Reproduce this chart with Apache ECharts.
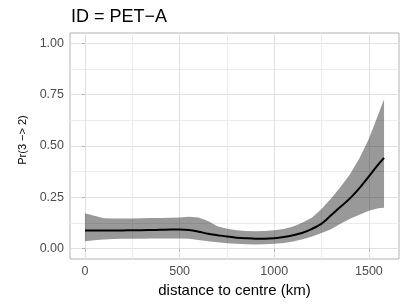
<!DOCTYPE html>
<html>
<head>
<meta charset="utf-8">
<script src="https://cdn.jsdelivr.net/npm/echarts@6/dist/echarts.min.js"></script>
<style>html,body{margin:0;padding:0;background:#fff}#c{width:407px;height:305px}</style>
</head>
<body>
<div id="c"></div>
<script>
var distance = [0, 50, 100, 150, 200, 250, 300, 350, 400, 450, 500, 550, 600, 650, 700, 750, 800, 850, 900, 950, 1000, 1050, 1100, 1150, 1200, 1250, 1300, 1350, 1400, 1450, 1500, 1550, 1580];
var fit = [0.089, 0.089, 0.089, 0.089, 0.089, 0.090, 0.090, 0.091, 0.092, 0.093, 0.094, 0.091, 0.083, 0.073, 0.066, 0.059, 0.054, 0.051, 0.049, 0.049, 0.051, 0.057, 0.066, 0.078, 0.097, 0.122, 0.163, 0.204, 0.245, 0.295, 0.352, 0.410, 0.442];
var upper = [0.173, 0.160, 0.148, 0.147, 0.147, 0.147, 0.148, 0.149, 0.150, 0.151, 0.152, 0.156, 0.152, 0.135, 0.110, 0.097, 0.090, 0.086, 0.085, 0.086, 0.090, 0.096, 0.108, 0.128, 0.152, 0.193, 0.245, 0.300, 0.362, 0.440, 0.535, 0.655, 0.728];
var lower = [0.037, 0.041, 0.045, 0.047, 0.048, 0.049, 0.049, 0.050, 0.050, 0.050, 0.050, 0.049, 0.043, 0.036, 0.031, 0.027, 0.024, 0.022, 0.021, 0.022, 0.024, 0.028, 0.035, 0.046, 0.060, 0.077, 0.095, 0.122, 0.146, 0.165, 0.185, 0.197, 0.199];
var xTicks = [0, 500, 1000, 1500];
var xMinor = [250, 750, 1250];
var yTicks = [0, 0.25, 0.5, 0.75, 1.0];
var yMinor = [0.125, 0.375, 0.625, 0.875];
var titleText = 'ID = PET\u2212A';
var xTitle = 'distance to centre (km)';
var yTitle = 'Pr(3 \u2212> 2)';

var FONT = 'Liberation Sans, Arial, sans-serif';
var chart = echarts.init(document.getElementById('c'), null, {renderer: 'canvas'});

function pairs(xs, ys) { return xs.map(function (x, i) { return [x, ys[i]]; }); }

chart.setOption({
  animation: false,
  backgroundColor: '#ffffff',
  title: {
    text: titleText, left: 66, top: 3,
    textStyle: {fontFamily: FONT, fontSize: 18, fontWeight: 'normal', color: '#000'}
  },
  grid: {left: 70, right: 8, top: 33, bottom: 46, show: true, borderColor: '#b3b3b3', borderWidth: 1, backgroundColor: '#fff'},
  xAxis: [{
    type: 'value', min: -79, max: 1659,
    name: xTitle, nameLocation: 'middle', nameGap: 21,
    nameTextStyle: {fontFamily: FONT, fontSize: 15, color: '#000'},
    axisLine: {show: false},
    axisTick: {show: true, customValues: xTicks, length: 3, lineStyle: {color: '#b3b3b3'}},
    axisLabel: {customValues: xTicks, margin: 6, fontFamily: FONT, fontSize: 12.5, color: '#4d4d4d',
      formatter: function (v) { return String(v); }},
    splitLine: {show: true, lineStyle: {color: '#e1e1e1', width: 1}}
  }, {
    type: 'value', min: -79, max: 1659,
    axisLine: {show: false},
    axisTick: {show: false, customValues: xMinor},
    axisLabel: {show: false, customValues: xMinor},
    splitLine: {show: true, lineStyle: {color: '#ececec', width: 1}}
  }],
  yAxis: [{
    type: 'value', min: -0.05, max: 1.05,
    name: yTitle, nameLocation: 'middle', nameGap: 42,
    nameTextStyle: {fontFamily: FONT, fontSize: 11, color: '#000', padding: [0, 0, 0, 12]},
    axisLine: {show: false},
    axisTick: {show: true, customValues: yTicks, length: 3, lineStyle: {color: '#b3b3b3'}},
    axisLabel: {customValues: yTicks, margin: 6, fontFamily: FONT, fontSize: 12.5, color: '#4d4d4d',
      formatter: function (v) { return v.toFixed(2); }},
    splitLine: {show: true, lineStyle: {color: '#e1e1e1', width: 1}}
  }, {
    type: 'value', min: -0.05, max: 1.05,
    axisLine: {show: false},
    axisTick: {show: false, customValues: yMinor},
    axisLabel: {show: false, customValues: yMinor},
    splitLine: {show: true, lineStyle: {color: '#ececec', width: 1}}
  }],
  series: [{
    type: 'custom', silent: true, z: 2, clip: true,
    data: [0],
    renderItem: function (params, api) {
      var pts = [];
      for (var i = 0; i < distance.length; i++) pts.push(api.coord([distance[i], upper[i]]));
      for (var j = distance.length - 1; j >= 0; j--) pts.push(api.coord([distance[j], lower[j]]));
      return {
        type: 'polygon',
        shape: {points: pts},
        style: {fill: 'rgba(0,0,0,0.4)', stroke: null}
      };
    }
  }, {
    type: 'line', data: pairs(distance, fit), symbol: 'none', smooth: 0.3,
    lineStyle: {color: '#000', width: 2}, z: 3
  }]
});
</script>
</body>
</html>
